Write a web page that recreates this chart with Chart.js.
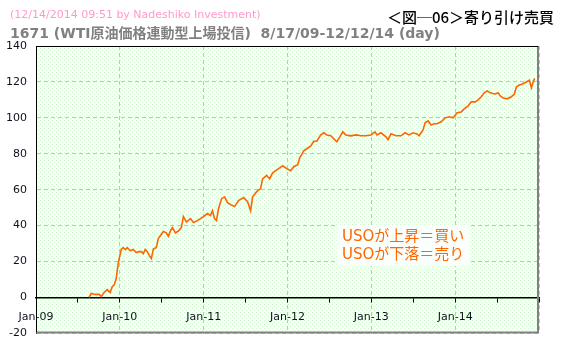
<!DOCTYPE html>
<html>
<head>
<meta charset="utf-8">
<script src="https://cdn.jsdelivr.net/npm/chart.js@4/dist/chart.umd.min.js"></script>
<style>
  html, body { margin: 0; padding: 0; background: #fff; }
  #wrap { position: relative; width: 566px; height: 349px; }
</style>
</head>
<body>
<div id="wrap"><canvas id="uso"></canvas></div>
<script>
const headerNote = "(12/14/2014 09:51 by Nadeshiko Investment)";
const headerTitle = "1671 (WTI原油価格連動型上場投信)  8/17/09-12/12/14 (day)";
const figureLabel = "＜図─06＞寄り引け売買";
const noteLines = ["USOが上昇＝買い", "USOが下落＝売り"];

const yMin = -20, yMax = 140, yStep = 20;
const xStart = 2009, xEnd = 2015;

// decimal year of each sample
const years = [
  2009.634, 2009.658, 2009.706, 2009.754, 2009.778, 2009.813, 2009.849, 2009.885, 2009.909, 2009.933,
  2009.957, 2009.969, 2009.981, 2009.993, 2010.017, 2010.041, 2010.065, 2010.089, 2010.124, 2010.160,
  2010.196, 2010.232, 2010.256, 2010.280, 2010.304, 2010.328, 2010.352, 2010.376, 2010.400, 2010.435,
  2010.459, 2010.483, 2010.519, 2010.555, 2010.579, 2010.603, 2010.627, 2010.663, 2010.699, 2010.734,
  2010.758, 2010.794, 2010.842, 2010.878, 2010.926, 2010.962, 2010.998, 2011.045, 2011.081, 2011.105,
  2011.129, 2011.153, 2011.177, 2011.213, 2011.249, 2011.285, 2011.321, 2011.368, 2011.416, 2011.476,
  2011.524, 2011.560, 2011.584, 2011.632, 2011.679, 2011.703, 2011.751, 2011.787, 2011.823, 2011.859,
  2011.895, 2011.943, 2011.990, 2012.038, 2012.074, 2012.122, 2012.146, 2012.194, 2012.230, 2012.278,
  2012.313, 2012.349, 2012.397, 2012.433, 2012.469, 2012.517, 2012.553, 2012.589, 2012.624, 2012.660,
  2012.696, 2012.756, 2012.816, 2012.876, 2012.935, 2012.995, 2013.043, 2013.067, 2013.115, 2013.175,
  2013.199, 2013.234, 2013.294, 2013.354, 2013.402, 2013.450, 2013.498, 2013.545, 2013.569, 2013.617,
  2013.641, 2013.677, 2013.713, 2013.749, 2013.785, 2013.833, 2013.880, 2013.928, 2013.976, 2014.024,
  2014.072, 2014.108, 2014.156, 2014.191, 2014.239, 2014.275, 2014.311, 2014.347, 2014.383, 2014.419,
  2014.467, 2014.514, 2014.538, 2014.574, 2014.622, 2014.670, 2014.706, 2014.730, 2014.766, 2014.801,
  2014.849, 2014.885, 2014.909, 2014.930, 2014.948
];

// cumulative result (%), same order as years
const values = [
  0, 2.2, 1.7, 1.7, 0.5, 2.8, 4.4, 2.8, 6, 7,
  10.5, 15, 19, 21.7, 26.7, 27.8, 26.7, 27.8, 26, 26.7,
  25, 25.5, 25.5, 24.4, 26.7, 25.5, 23.3, 21.7, 27, 27.8,
  32.8, 34.4, 36.7, 36, 34, 37, 38.9, 36, 37, 38.9,
  45, 42, 43.9, 41.7, 42.8, 43.9, 45, 46.7, 45.6, 48.3,
  43.9, 42.8, 49.4, 55, 56, 52.8, 51.7, 50.6, 53.9, 55.6,
  53.3, 48.3, 56, 58.9, 60.6, 66, 68, 66, 69.4, 70.6,
  71.7, 73.3, 71.7, 70.6, 72.8, 73.9, 77.8, 81.7, 82.8, 84.4,
  87, 87, 90.5, 91.7, 90.5, 90, 88.3, 86.7, 89.4, 92.2,
  90.5, 90, 90.5, 90, 90, 90.5, 92.2, 90.5, 91.7, 89.4,
  87.8, 91.1, 90, 90, 91.7, 90.5, 91.7, 91, 90, 93.3,
  97.2, 98.3, 96, 96.7, 96.7, 97.8, 100, 100.6, 100, 102.8,
  103.3, 105, 106.7, 108.9, 108.9, 110, 111.7, 113.9, 115, 113.9,
  113.3, 113.9, 112.2, 111, 110.6, 111.7, 113.3, 117.2, 118.3, 118.9,
  120, 121, 116.7, 120, 122
];

const points = years.map((x, i) => ({ x: x, y: values[i] }));

const orange = "#ff6600";
const gridGray = "#c4c4c4";
const tickFont = { family: "'DejaVu Sans', Verdana, sans-serif", size: 11 };
const jpFont = "'DejaVu Sans', 'Noto Sans CJK JP', sans-serif";

// light green dotted plot background
function dotted(ctx) {
  const c = document.createElement("canvas");
  c.width = 4; c.height = 4;
  const p = c.getContext("2d");
  p.fillStyle = "#f7fff7";
  p.fillRect(0, 0, 4, 4);
  p.fillStyle = "#d2f8d2";
  p.fillRect(0, 0, 1, 1);
  p.fillRect(2, 2, 1, 1);
  return ctx.createPattern(c, "repeat");
}

const decor = {
  id: "decor",
  beforeDraw(chart) {
    const { ctx, chartArea: a } = chart;
    ctx.save();
    ctx.fillStyle = dotted(ctx);
    ctx.fillRect(a.left, a.top, a.right - a.left, a.bottom - a.top);
    ctx.restore();
  },
  afterDatasetsDraw(chart) {
    const { ctx, chartArea: a } = chart;
    const bx = a.left + 301, by = a.top + 179;
    ctx.save();
    ctx.fillStyle = "#fbfffb";
    ctx.fillRect(bx, by, 133, 41);
    ctx.fillStyle = orange;
    ctx.font = "15px " + jpFont;
    ctx.textBaseline = "middle";
    ctx.fillText(noteLines[0], bx + 5, by + 12);
    ctx.fillText(noteLines[1], bx + 5, by + 30);
    ctx.restore();
  },
  afterDraw(chart) {
    const { ctx, chartArea: a } = chart;
    ctx.save();
    // frame: dark top/left, grey bottom/right
    ctx.strokeStyle = "#808080";
    ctx.lineWidth = 2;
    ctx.beginPath();
    ctx.moveTo(a.left, a.bottom - 1);
    ctx.lineTo(a.right - 1, a.bottom - 1);
    ctx.lineTo(a.right - 1, a.top);
    ctx.stroke();
    ctx.strokeStyle = "#000";
    ctx.lineWidth = 1;
    ctx.beginPath();
    ctx.moveTo(a.left + 0.5, a.bottom - 1);
    ctx.lineTo(a.left + 0.5, a.top + 0.5);
    ctx.lineTo(a.right - 1, a.top + 0.5);
    ctx.stroke();

    // header texts
    ctx.textBaseline = "middle";
    ctx.fillStyle = "#ff99cc";
    ctx.font = "11px " + jpFont;
    ctx.fillText(headerNote, 10, 15);
    ctx.fillStyle = "#808080";
    ctx.font = "bold 14px " + jpFont;
    ctx.fillText(headerTitle, 10, 34);
    ctx.fillStyle = "#000";
    ctx.font = "500 15px 'Noto Sans CJK JP', sans-serif";
    ctx.textAlign = "right";
    ctx.fillText(figureLabel, 554, 17);
    ctx.restore();
  }
};

new Chart(document.getElementById("uso"), {
  type: "line",
  data: {
    datasets: [{
      data: points,
      borderColor: orange,
      borderWidth: 1.6,
      pointRadius: 0,
      tension: 0,
      fill: false
    }]
  },
  options: {
    responsive: true,
    maintainAspectRatio: false,
    animation: false,
    events: [],
    layout: { padding: { left: 0, top: 46, right: 27, bottom: 14 } },
    plugins: {
      legend: { display: false },
      tooltip: { enabled: false }
    },
    scales: {
      x: {
        type: "linear",
        position: { y: 0 },
        min: xStart,
        max: xEnd,
        ticks: {
          stepSize: 0.5,
          autoSkip: false,
          maxRotation: 0,
          padding: 9,
          color: "#101020",
          font: tickFont,
          callback: function (v) {
            if (Number.isInteger(v) && v < xEnd) {
              return "Jan-" + String(v).slice(2);
            }
            return "";
          }
        },
        grid: {
          color: function (context) {
            const v = context.tick ? context.tick.value : 0;
            return Number.isInteger(v) ? gridGray : "rgba(0,0,0,0)";
          },
          tickColor: "#000",
          tickLength: 4,
          lineWidth: 1
        },
        border: { display: true, color: "#000", width: 1.5, dash: [4, 3] }
      },
      y: {
        min: yMin,
        max: yMax,
        afterFit: function (scale) { scale.width = 36; },
        ticks: {
          stepSize: yStep,
          padding: 9,
          color: "#101020",
          font: tickFont
        },
        grid: {
          color: gridGray,
          drawTicks: false,
          lineWidth: 1
        },
        border: { display: true, color: "#000", width: 1, dash: [4, 3] }
      }
    }
  },
  plugins: [decor]
});
</script>
</body>
</html>
